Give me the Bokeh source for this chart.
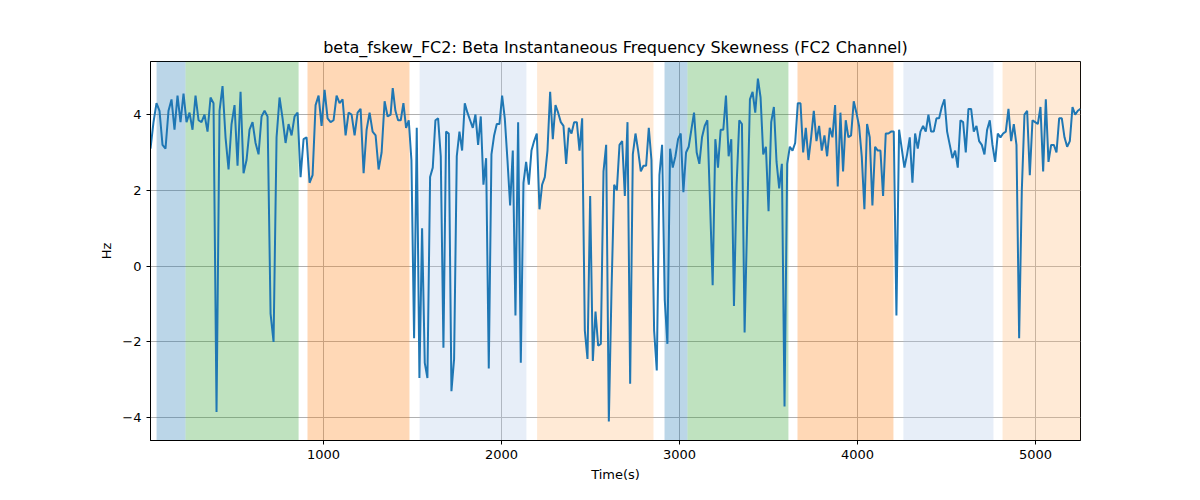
import numpy as np
from bokeh.plotting import figure
from bokeh.models import BoxAnnotation, Range1d, FixedTicker
from bokeh.embed import file_html
from bokeh.resources import INLINE

# four segments of the trace: (start time, end time, values)
seg1_span = (28, 1377)
seg1 = [3.1,3.8,4.3,4.1,3.2,3.1,4.1,4.4,3.6,4.5,3.8,4.55,3.8,4.05,3.6,4.5,3.85,3.8,4.0,3.55,4.45,4.3,-3.85,4.1,4.75,3.4,2.55,3.75,4.25,2.65,4.6,2.45,2.8,3.6,3.8,3.25,2.95,3.95,4.1,3.95,-1.25,-2.0,3.4,4.45,3.9,3.25,3.75,3.45,3.95,4.05,2.35,3.35,3.4,2.2,2.4,4.25,4.5,3.7,4.65,3.9,3.8,3.85,4.5,4.3,4.4,3.45,4.05,4.0,3.45,4.05,4.15,2.45,3.6,4.05,3.55,3.45,2.55,3.0,4.35,3.95,4.0]
seg2_span = (1389, 2663)
seg2 = [4.7,4.1,3.85,3.85,4.3,3.65,3.85,2.8,-1.9,3.65,-2.95,1.0,-2.55,-2.95,2.35,2.6,3.85,3.9,2.9,-2.15,3.55,3.5,-3.3,-2.45,2.9,3.55,3.05,4.3,4.05,3.85,3.65,4.0,3.2,3.95,2.15,2.85,-2.7,2.95,3.45,3.75,3.75,4.5,3.9,2.8,1.6,3.05,-1.3,3.8,-2.55,2.2,2.75,2.15,3.05,3.3,3.5,1.5,2.15,2.35,3.05,4.6,3.35,4.25,4.05,3.8,3.7,2.7,3.65,3.5,3.8,3.8,3.05,3.9,-1.7,-2.45,1.85,-2.5,-1.2,-2.1,-2.05,2.5,3.2,-4.1,-0.65,2.15,2.0,3.2]
seg3_span = (2678, 3949)
seg3 = [3.3,1.85,3.8,-3.1,2.95,3.5,3.05,2.5,2.65,2.65,3.65,2.8,-1.7,-2.75,2.4,3.2,-0.9,-2.05,3.1,2.6,2.9,3.35,3.5,1.95,3.0,3.15,3.6,4.05,3.0,2.7,3.4,3.7,3.85,1.7,-0.5,3.35,2.6,3.6,3.6,4.5,2.9,3.35,-1.05,2.15,3.85,3.75,-1.75,1.3,4.4,4.6,4.05,4.95,4.45,2.95,3.15,1.45,3.8,4.2,2.75,2.05,2.7,-3.7,2.7,3.15,3.05,3.25,4.3,4.3,3.0,3.65,2.8,3.4,4.1,3.3,3.7,3.05,3.45,2.9,3.65,3.4,4.25,2.1,4.05,2.5,3.85,3.4]
seg4_span = (3964, 5253)
seg4 = [3.45,4.35,4.05,3.7,2.9,1.5,3.75,3.4,1.6,3.15,3.05,3.05,1.85,3.5,3.5,3.55,3.55,-1.3,3.6,3.1,2.6,2.95,3.4,2.2,3.5,3.1,3.55,3.7,3.55,4.0,3.55,3.55,3.9,3.9,4.2,4.4,3.55,3.2,2.85,3.05,2.6,3.85,3.8,3.0,4.15,4.15,3.55,3.7,3.3,3.2,2.95,3.6,3.85,3.2,2.75,3.5,3.4,3.5,3.55,4.15,3.3,3.75,3.2,-1.9,2.0,4.0,4.1,2.4,3.85,3.8,3.75,4.2,2.5,4.4,2.75,3.2,3.2,3.0,3.9,3.9,3.4,3.15,3.3,4.2,4.0,4.1,4.15]

band_starts = [62, 225, 910, 1540, 2200, 2916, 3045, 3663, 4258, 4815]
band_ends = [225, 860, 1483, 2140, 2854, 3045, 3612, 4202, 4764, 5253]
band_colors = ["#1f77b4", "#2ca02c", "#ff7f0e", "#aec7e8", "#ffbb78",
               "#1f77b4", "#2ca02c", "#ff7f0e", "#aec7e8", "#ffbb78"]

t, v = [], []
for span, seg in [(seg1_span, seg1), (seg2_span, seg2), (seg3_span, seg3), (seg4_span, seg4)]:
    t.extend(np.linspace(span[0], span[1], len(seg)))
    v.extend(seg)

p = figure(width=1184, height=484, output_backend="svg", toolbar_location=None,
           title="beta_fskew_FC2: Beta Instantaneous Frequency Skewness (FC2 Channel)",
           x_range=Range1d(28, 5253), y_range=Range1d(-4.6, 5.4),
           min_border_left=150, min_border_right=104, min_border_top=61, min_border_bottom=34)
p.title.align = "center"
p.title.text_font = "DejaVu Sans"
p.title.text_font_size = "16px"
p.title.text_font_style = "normal"
p.title.text_color = "black"

for s, e, c in zip(band_starts, band_ends, band_colors):
    p.add_layout(BoxAnnotation(left=s, right=e, fill_color=c, fill_alpha=0.3, line_alpha=0, level="underlay"))

p.line(t, v, line_color="#1f77b4", line_width=2)

p.xaxis.axis_label = "Time(s)"
p.yaxis.axis_label = "Hz"
p.xaxis.ticker = FixedTicker(ticks=[1000, 2000, 3000, 4000, 5000])
p.yaxis.ticker = FixedTicker(ticks=[-4, -2, 0, 2, 4])
for ax in (p.xaxis, p.yaxis):
    ax.axis_label_text_font = "DejaVu Sans"
    ax.axis_label_text_font_size = "13px"
    ax.axis_label_text_font_style = "normal"
    ax.axis_label_text_color = "black"
    ax.major_label_text_font = "DejaVu Sans"
    ax.major_label_text_font_size = "13px"
    ax.major_label_text_color = "black"
    ax.axis_line_color = "black"
    ax.major_tick_line_color = "black"
    ax.minor_tick_line_color = None
    ax.major_tick_in = 0
    ax.major_tick_out = 4
p.grid.grid_line_color = "#b0b0b0"
p.grid.grid_line_width = 1
p.outline_line_color = "black"
p.grid.level = "underlay"

open("out.html", "w").write(file_html(p, INLINE))
